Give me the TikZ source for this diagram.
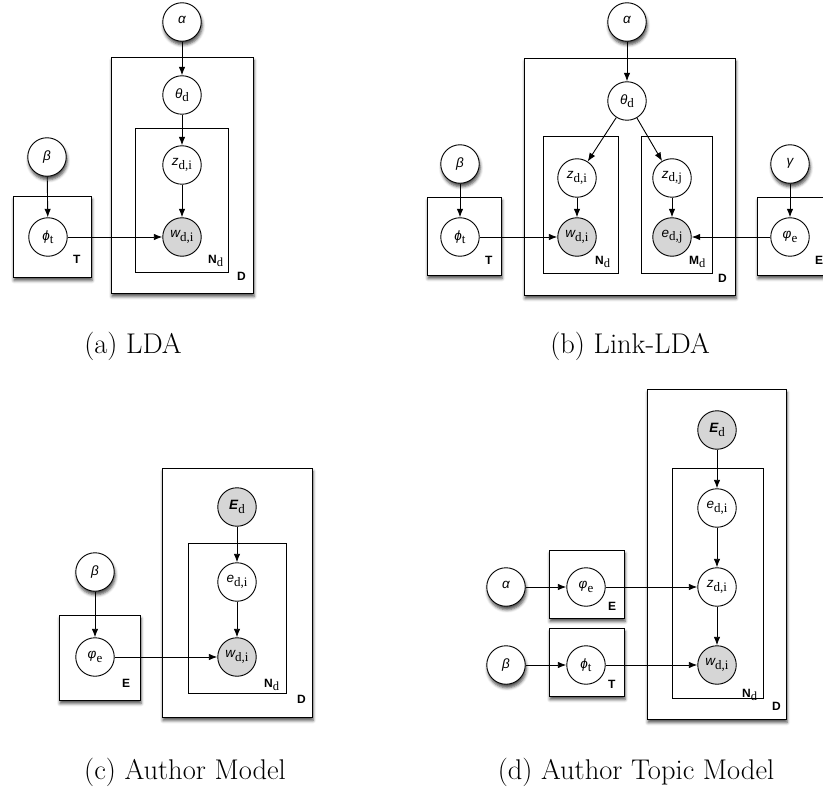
\documentclass[tikz,border=0pt]{standalone}
\usepackage{fontspec}
\newfontfamily\symf{Liberation Sans}
\newfontfamily\subf{Liberation Serif}
\usetikzlibrary{arrows.meta,shadows.blur}

\definecolor{obsgray}{RGB}{214,214,214}

% variable symbol: italic sans letter with a roman subscript
\newcommand\vsym[2]{{\symf\itshape #1}\raisebox{-3.5pt}{\subf\fontsize{13}{15}\selectfont #2}}
% plate label: bold sans letter with optional roman subscript
\newcommand\plab[2]{{\symf\bfseries #1}\raisebox{-3pt}{\subf\fontsize{12.5}{14}\selectfont #2}}

\tikzset{
  softshadow/.style={blur shadow={shadow xshift=1pt, shadow yshift=-3.5pt,
      shadow blur radius=3pt, shadow opacity=70}},
  var/.style={circle, draw, line width=0.9pt, minimum size=38.5pt,
      inner sep=0pt, fill=white, font=\fontsize{13.5}{15}\selectfont},
  obs/.style={var, fill=obsgray},
  hyp/.style={var, softshadow},
  plate/.style={rectangle, draw, line width=0.9pt, inner sep=0pt},
  outerplate/.style={plate, fill=white, softshadow},
  lbl/.style={anchor=base west, inner sep=0pt, font=\fontsize{12}{14}\selectfont},
  captext/.style={anchor=base, inner sep=0pt, font=\fontsize{28.5}{32}\selectfont},
  edge/.style={-{Latex[length=8.5pt,width=6.5pt]}, line width=0.9pt},
}

\begin{document}
\begin{tikzpicture}[x=1pt,y=-1pt]
\useasboundingbox (0,0) rectangle (823,789);
\clip (0,0) rectangle (823,789);

% ---------------- (a) LDA ----------------
\node[outerplate, minimum width=142pt, minimum height=236pt] (Da) at (182,175) {};
\node[plate, minimum width=93pt, minimum height=144pt] (Na) at (181.5,200) {};
\node[outerplate, minimum width=78pt, minimum height=81pt] (Ta) at (52,236.5) {};
\node[lbl] (labTa) at (73,263) {\plab{T}{}};
\node[lbl] (labNa) at (208,263) {\plab{N}{d}};
\node[lbl] (labDa) at (237,280) {\plab{D}{}};

\node[hyp] (alA) at (182,22) {\vsym{α}{}};
\node[var] (thA) at (182,95) {\vsym{θ}{d}};
\node[var] (zA) at (182,165) {\vsym{z}{d,i}};
\node[obs] (wA) at (182,237) {\vsym{w}{d,i}};
\node[hyp] (beA) at (47,157) {\vsym{β}{}};
\node[var] (phA) at (48,237) {\vsym{ϕ}{t}};

\draw[edge] (alA) -- (thA);
\draw[edge] (thA) -- (zA);
\draw[edge] (zA) -- (wA);
\draw[edge] (beA) -- (phA);
\draw[edge] (phA) -- (wA);

\node[captext] (capA) at (133,353) {(a) LDA};

% ---------------- (b) Link-LDA ----------------
\node[outerplate, minimum width=211pt, minimum height=237pt] (Db) at (629.5,176.5) {};
\node[plate, minimum width=75pt, minimum height=137pt] (Nb) at (580.5,204.5) {};
\node[plate, minimum width=71pt, minimum height=137pt] (Mb) at (676.5,204.5) {};
\node[outerplate, minimum width=74pt, minimum height=78pt] (Tb) at (464,236) {};
\node[outerplate, minimum width=74pt, minimum height=78pt] (Eb) at (794,236) {};
\node[lbl] (labTb) at (485,265) {\plab{T}{}};
\node[lbl] (labNb) at (595,265) {\plab{N}{d}};
\node[lbl] (labMb) at (689,265) {\plab{M}{d}};
\node[lbl] (labDb) at (718,283) {\plab{D}{}};
\node[lbl] (labEb) at (815,265) {\plab{E}{}};

\node[hyp] (alB) at (627,22) {\vsym{α}{}};
\node[var] (thB) at (627,101) {\vsym{θ}{d}};
\node[var] (ziB) at (577,178) {\vsym{z}{d,i}};
\node[var] (zjB) at (672,178) {\vsym{z}{d,j}};
\node[obs] (wB) at (577,237) {\vsym{w}{d,i}};
\node[obs] (eB) at (672,237) {\vsym{e}{d,j}};
\node[hyp] (beB) at (460,164) {\vsym{β}{}};
\node[var] (phB) at (460,237) {\vsym{ϕ}{t}};
\node[hyp] (gaB) at (790,164) {\vsym{γ}{}};
\node[var] (vpB) at (790,237) {\vsym{φ}{e}};

\draw[edge] (alB) -- (thB);
\draw[edge] (thB) -- (ziB);
\draw[edge] (thB) -- (zjB);
\draw[edge] (ziB) -- (wB);
\draw[edge] (zjB) -- (eB);
\draw[edge] (beB) -- (phB);
\draw[edge] (phB) -- (wB);
\draw[edge] (gaB) -- (vpB);
\draw[edge] (vpB) -- (eB);

\node[captext] (capB) at (630,353) {(b) Link-LDA};

% ---------------- (c) Author Model ----------------
\node[outerplate, minimum width=150pt, minimum height=249pt] (Dc) at (237,592.5) {};
\node[plate, minimum width=98pt, minimum height=150pt] (Nc) at (237,618) {};
\node[outerplate, minimum width=81pt, minimum height=85pt] (Ec) at (99.5,657.5) {};
\node[lbl] (labEc) at (122,687) {\plab{E}{}};
\node[lbl] (labNc) at (264,687) {\plab{N}{d}};
\node[lbl] (labDc) at (297,703) {\plab{D}{}};

\node[obs] (EdC) at (237,507) {{\symf\bfseries\itshape E}\raisebox{-3.5pt}{\subf\fontsize{13}{15}\selectfont d}};
\node[var] (eC) at (237,582) {\vsym{e}{d,i}};
\node[obs] (wC) at (237,657) {\vsym{w}{d,i}};
\node[hyp] (beC) at (95,572) {\vsym{β}{}};
\node[var] (vpC) at (95,657) {\vsym{φ}{e}};

\draw[edge] (EdC) -- (eC);
\draw[edge] (eC) -- (wC);
\draw[edge] (beC) -- (vpC);
\draw[edge] (vpC) -- (wC);

\node[captext] (capC) at (185,779) {(c) Author Model};

% ---------------- (d) Author Topic Model ----------------
\node[outerplate, minimum width=139pt, minimum height=330pt] (Dd) at (716.5,554) {};
\node[plate, minimum width=91pt, minimum height=230pt] (Nd) at (717.5,583) {};
\node[outerplate, minimum width=75pt, minimum height=68pt] (Ed) at (586.5,584) {};
\node[outerplate, minimum width=75pt, minimum height=68pt] (Td) at (586.5,662) {};
\node[lbl] (labEd) at (608,610) {\plab{E}{}};
\node[lbl] (labTd) at (608,688) {\plab{T}{}};
\node[lbl] (labNd) at (742,697) {\plab{N}{d}};
\node[lbl] (labDd) at (772,710) {\plab{D}{}};

\node[obs] (EdD) at (717,430) {{\symf\bfseries\itshape E}\raisebox{-3.5pt}{\subf\fontsize{13}{15}\selectfont d}};
\node[var] (eD) at (717,508) {\vsym{e}{d,i}};
\node[var] (zD) at (717,587) {\vsym{z}{d,i}};
\node[obs] (wD) at (717,665) {\vsym{w}{d,i}};
\node[hyp] (alD) at (506,587) {\vsym{α}{}};
\node[var] (vpD) at (586,587) {\vsym{φ}{e}};
\node[hyp] (beD) at (506,665) {\vsym{β}{}};
\node[var] (phD) at (586,665) {\vsym{ϕ}{t}};

\draw[edge] (EdD) -- (eD);
\draw[edge] (eD) -- (zD);
\draw[edge] (zD) -- (wD);
\draw[edge] (alD) -- (vpD);
\draw[edge] (vpD) -- (zD);
\draw[edge] (beD) -- (phD);
\draw[edge] (phD) -- (wD);

\node[captext] (capD) at (636,779) {(d) Author Topic Model};
\end{tikzpicture}
\end{document}
